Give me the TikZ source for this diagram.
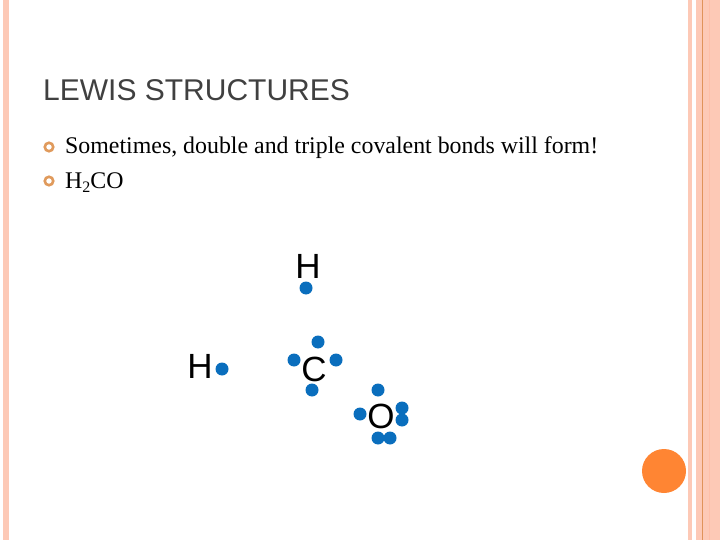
\documentclass[tikz,border=0pt]{standalone}
\usepackage{fontspec}
\setmainfont{Liberation Serif}
\newfontfamily\headfont{Liberation Sans}
\definecolor{bandlight}{HTML}{FDC9B6}
\definecolor{bandmid}{HTML}{FEBFA8}
\definecolor{bandline}{HTML}{E0935A}
\definecolor{bulletring}{HTML}{E09A5C}
\definecolor{dotblue}{HTML}{0A6EBD}
\definecolor{bigorange}{HTML}{FF8533}
\tikzset{
  band/.style={fill=bandlight,draw=none},
  dotmark/.style={circle,fill=dotblue,draw=none,minimum size=13pt,inner sep=0pt},
  atomlabel/.style={font=\headfont\fontsize{35}{35}\selectfont,text=black,inner sep=0pt},
  bulletmark/.style={circle,draw=bulletring,line width=2.6pt,fill=white,minimum size=8.5pt,inner sep=0pt},
  bodytext/.style={font=\fontsize{23.87}{24}\selectfont,text=black,anchor=base west,inner sep=0pt},
}
\begin{document}
\begin{tikzpicture}[x=1pt,y=-1pt]
\useasboundingbox (0,0) rectangle (720,540);
% side bands
\fill[band] (3,0) rectangle (9,540);
\fill[band] (688,0) rectangle (692,540);
\fill[band] (696,0) rectangle (702,540);
\fill[band] (703,0) rectangle (720,540);
\fill[bandmid] (709,0) rectangle (710,540);
\fill[bandline] (702,0) rectangle (703,540);
% title and bullets
\node[font=\headfont\fontsize{30}{30}\selectfont,text=black!75,anchor=base west,inner sep=0pt] (title) at (43,101) {LEWIS STRUCTURES};
\node[bulletmark] (b1) at (49,147) {};
\node[bulletmark] (b2) at (49,181) {};
\node[bodytext] (line1) at (65,154) {Sometimes, double and triple covalent bonds will form!};
\node[bodytext] (line2) at (65,189) {H\raisebox{-3.5pt}{\fontsize{16}{16}\selectfont 2}CO};
% atoms
\node[atomlabel] (H1) at (308,266) {H};
\node[atomlabel] (H2) at (200,366) {H};
\node[atomlabel] (C) at (314,369) {C};
\node[atomlabel] (O) at (381,416) {O};
% electrons
\node[dotmark] (e1) at (306,288) {};
\node[dotmark] (e2) at (222,369) {};
\node[dotmark] (c1) at (318,342) {};
\node[dotmark] (c2) at (294,360) {};
\node[dotmark] (c3) at (336,360) {};
\node[dotmark] (c4) at (312,390) {};
\node[dotmark] (o1) at (378,390) {};
\node[dotmark] (o2) at (360,414) {};
\node[dotmark] (o3) at (402,408) {};
\node[dotmark] (o4) at (402,420) {};
\node[dotmark] (o5) at (378,438) {};
\node[dotmark] (o6) at (390,438) {};
% corner disc
\node[circle,fill=bigorange,draw=none,minimum size=44pt,inner sep=0pt] (disc) at (664,471) {};
\end{tikzpicture}
\end{document}
